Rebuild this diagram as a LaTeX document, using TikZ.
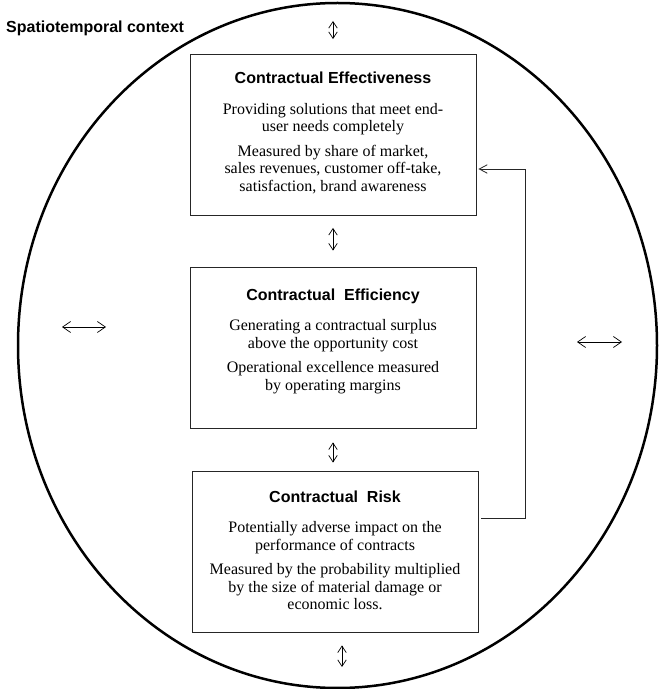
\documentclass[tikz,border=0pt]{standalone}
\usepackage{fontspec}
\setmainfont{Liberation Serif}
\setsansfont{Liberation Sans}
\usetikzlibrary{shapes.geometric,arrows.meta,positioning}

\tikzset{
  framebox/.style={draw=black!85, line width=0.9pt, minimum width=286pt, minimum height=161pt, inner sep=0pt},
  boxtext/.style={align=center, inner sep=0pt, font=\fontsize{16}{17.5}\selectfont},
  updown/.style={<->, >={Straight Barb[length=6.5pt,width=8.5pt]}, line width=0.7pt},
  leftright/.style={<->, >={Straight Barb[length=8pt,width=11pt]}, line width=0.7pt},
  feedback/.style={->, >={Straight Barb[length=8pt,width=8.5pt]}, line width=0.8pt, draw=black!85},
}
\newcommand{\boxtitle}[1]{{\sffamily\bfseries #1}}

\begin{document}
\begin{tikzpicture}[x=1pt,y=1pt]
\useasboundingbox (0,0) rectangle (659,689);
% context ellipse
\node[draw, ellipse, line width=2.5pt, minimum width=639pt, minimum height=685pt, inner sep=0pt, outer sep=0pt] (ctx) at (337.5,343.5) {};
\node[anchor=base west, inner sep=0pt, font=\sffamily\bfseries\fontsize{16}{18}\selectfont] (ctxlabel) at (6,656) {Spatiotemporal context};

% the three boxes
\node[framebox] (eff) at (333,554) {};
\node[framebox] (effc) at (333,341.5) {};
\node[framebox] (risk) at (335,137.5) {};

\node[boxtext, below=18pt of eff.north] (efftxt) {\boxtitle{Contractual Effectiveness}\\[13pt]
  Providing solutions that meet end-\\user needs completely\\[7pt]
  Measured by share of market,\\sales revenues, customer off-take,\\satisfaction, brand awareness};
\node[boxtext, below=22pt of effc.north] (effctxt) {\boxtitle{Contractual~~Efficiency}\\[13pt]
  Generating a contractual surplus\\above the opportunity cost\\[7pt]
  Operational excellence measured\\by operating margins};
\node[boxtext, below=20pt of risk.north] (risktxt) {\boxtitle{Contractual~~Risk}\\[13pt]
  Potentially adverse impact on the\\performance of contracts\\[7pt]
  Measured by the probability multiplied\\by the size of material damage or\\economic loss.};

% two-way links
\draw[updown, shorten <=18pt, shorten >=15pt] (eff.north |- ctx.north) -- (eff.north);
\draw[updown, shorten <=12pt, shorten >=16pt] (eff.south) -- (effc.north);
\draw[updown, shorten <=14pt, shorten >=8pt] (effc.south) -- (effc.south |- risk.north);
\draw[updown, shorten <=13pt, shorten >=21pt] ([xshift=7pt]risk.south) -- ([xshift=7pt]risk.south |- ctx.south);

\coordinate (west1) at (62,362);
\coordinate (west2) at (106,362);
\coordinate (east1) at (577,347);
\coordinate (east2) at (622,347);
\draw[leftright] (west1) -- (west2);
\draw[leftright] (east1) -- (east2);

% feedback from risk to effectiveness
\draw[feedback, shorten <=3pt, shorten >=2pt] ([yshift=33.5pt]risk.east) -- ++(47,0) |- ([yshift=-34pt]eff.east);
\end{tikzpicture}
\end{document}
